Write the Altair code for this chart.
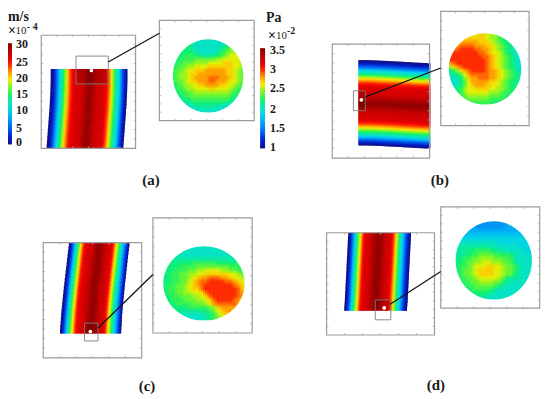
import altair as alt
import pandas as pd

# --- colour scale (fraction of colour bar, colour)
STOPS = [0, .08, .16, .25, .33, .40, .48, .56, .64, .72, .78, .84, .90, 1]
COLORS = ["#10108c", "#0020d0", "#0060f0", "#00a0f8", "#00d0f0", "#08e8c0", "#10f070",
          "#70f830", "#f8f000", "#ff9000", "#ff3000", "#f00000", "#c80000", "#800000"]

# --- velocity profiles across each strip (x10^-4 m/s)
profile_a = [0, 2, 4, 7, 10, 12.5, 14.5, 17.5, 20, 22, 24, 25.2, 26, 26.2, 26.3, 26.5, 26.8, 27.4, 28.2, 29,
             29, 28.4, 27.6, 27, 26.7, 26.5, 26.3, 26.1, 25.5, 24, 22, 19.5, 17, 14.5, 12, 10, 7, 4, 2, 0]
profile_b = [0, 2, 4, 6.5, 10, 12, 14, 17, 19.5, 21.5, 23.5, 25, 25.8, 26.1, 26.3, 26.5, 26.9, 27.5, 28.4, 29.2,
             29.2, 28.6, 27.8, 27.2, 26.8, 26.5, 26.3, 26, 25, 23.5, 21.5, 19.5, 17, 14.5, 12.5, 10, 7, 4, 2, 0]
profile_c = [0, 2.5, 4.5, 8, 11, 13.5, 16, 19, 21, 23.5, 25, 25.8, 26.1, 26.3, 26.6, 27, 27.6, 28.2, 28.8, 29.2,
             29.2, 28.8, 28.2, 27.6, 27.1, 26.7, 26.4, 26.1, 25.3, 23.5, 21, 19, 16.5, 14, 12, 9.5, 7, 4.5, 2.5, 0]
profile_d = [0, 2.5, 4.5, 8, 11, 13.5, 16.5, 19, 21.5, 24, 25.3, 26, 26.2, 26.4, 26.8, 27.4, 28, 28.6, 29.2, 29.2,
             29, 28.4, 27.8, 27.2, 26.7, 26.4, 26.2, 25.5, 24, 22, 19.5, 17, 14.5, 12, 10, 7.5, 5, 3, 1.5, 0]

# --- strip outlines
a_left = [51, 51, 51, 50.9, 50.8, 50.7, 50.5, 50.3, 50.1, 49.9, 49.6, 49.3, 49, 48.7, 48.4, 48.1, 47.8, 47.5, 47.2, 46.9]
a_right = [128.3, 128.3, 128.3, 128.2, 128.1, 128, 127.8, 127.6, 127.4, 127.2, 126.9, 126.6, 126.3, 126, 125.7, 125.4, 125.1, 124.8, 124.5, 124.2]
b_top = [59, 59, 59, 59, 59.1, 59.1, 59.2, 59.2, 59.3, 59.4, 59.5, 59.6, 59.7, 59.8, 59.9, 60, 60.1, 60.2,
         60.3, 60.4, 60.5, 60.6, 60.8, 60.9, 61, 61.1, 61.2, 61.4, 61.5, 61.6, 61.7, 61.8, 61.9, 62, 62, 62]
b_bottom = [145, 145, 145, 145, 145.1, 145.1, 145.2, 145.2, 145.3, 145.4, 145.5, 145.6, 145.7, 145.8, 145.9, 146, 146.1, 146.2,
            146.3, 146.4, 146.5, 146.6, 146.8, 146.9, 147, 147.1, 147.2, 147.4, 147.5, 147.6, 147.7, 147.8, 147.9, 148, 148, 148]
c_left = [69.3, 68.8, 68.3, 67.9, 67.4, 67, 66.5, 66, 65.6, 65.1, 64.7, 64.2, 63.8, 63.4, 63, 62.6, 62.2, 61.8, 61.5, 61.2, 60.9, 60.6, 60.4]
c_right = [130.3, 129.8, 129.3, 128.9, 128.4, 128, 127.5, 127.1, 126.7, 126.2, 125.8, 125.4, 125, 124.6, 124.2, 123.8, 123.5, 123.2, 122.9, 122.7, 122.5, 122.2, 122]
d_left = [350.7, 350.5, 350.3, 350.1, 349.9, 349.7, 349.5, 349.3, 349.1, 348.9, 348.7, 348.5, 348.3, 348.1, 347.9, 347.7, 347.5, 347.3, 347, 346.7]
d_right = [414, 413.8, 413.6, 413.4, 413.2, 413, 412.8, 412.6, 412.4, 412.2, 412, 411.8, 411.6, 411.4, 411.2, 411, 410.8, 410.6, 410.3, 410]

# --- pressure maps; each character is a base-36 level, about (Pa x10^-2 - 1) x 10
map_a = ["cccccbbaaaaaaabcdddd", "cccccbaaaaaaaabcdeee", "cccccbaaaaaaabcdefff", "ccccccbaaaaabcdeffgg",
         "cccdddccbbbccdefgggg", "ccddddeeeeeeffgggggg", "cddeeeffffgggghhhggf", "cdeeffgggghhhhhhhggf",
         "deefgghhhiiiiiihhgfe", "deffghhiiiiiiiihhgfe", "deffghiiiijjjiiihgfe", "deefghhiiijjiiihggfe",
         "cdeffgghhiiiihhggfed", "cddeffgggghhggggfedd", "bcddeeffffffffffeddc", "bccddeeeeeeeeeeedccb",
         "abbccdddddddddddcbba", "aaabbbccccccccbbbaaa", "9aaaaabbbbbbaaaaaa99", "99999aaaaaaaaa999999"]
map_b = ["ffffgggghhgffeddcccc", "gggghhhhhhgffedccccb", "hhhiiiiihhhgfedccbbb", "iiijjjjiiihhgfedcbba",
         "ijjkkkkjjiihgfedcbba", "jkkkkkkkjjihggfdcbaa", "kkkkkkkkkjjihgfedcaa", "kkkkkkkkkkjihgfedcaa",
         "ijkkkkkkkkjihgfedcba", "fhijkkkkkkjihgfedcba", "cdfhijkkkkjiihgfedca", "bbcegijjjjjiihgfedcb",
         "aabcfhiijjjiihgfedcb", "aaacegiiiiihhgfedccb", "aabceghiiihhggfedccb", "bbcdfgghhhhggffedccb",
         "cccdfggggggfffeddccc", "ccddeffffffeeeddcccc", "ccdddeeeeeeddddccccc", "ccccddddddddcccccccc"]
map_c = ["bbbbbbaaaaaaaaaabbbb", "bbbbbaaaaaaaaaaaabbb", "bbbbaaaaaaaaaaaaabbb", "bbbbbbbbbbbbbbbbbbcc",
         "cccccccddddddcccccdd", "ccccddddeeeeeeeedddd", "cccdddeeffggggffeedd", "ccddeeffgghhhhhhggfe",
         "ccddeefghiijjjiihggf", "ccddeeghijjkkkkjjihg", "cddeefghijkkkkkkkjih", "cddeefghhjkkkkkkkkjh",
         "cddeeffgghjkkkkkkkji", "ccddeeeffghjkkkkkkji", "ccdddeeeffghjkkkkjih", "cccddddeeefgijjjjjih",
         "ccccccdddddefhiiiihh", "ccccbbbbbccdeghiihgg", "cccbbaaaaabcdfghggfe", "cccbaaaaaabcdeffeedd"]
map_d = ["88887666666667788888", "88877666666667778888", "99877777777777778899", "99888888888888888899",
         "a9999999999999999999", "aaaaaaaaaaa999999999", "abbbbbbbbbaaaaaa9999", "bbbccddddccbbaaaaa99",
         "bbccddeeeeddcdcbaaa9", "bcddeeffffeeeddbaaaa", "ccdeeffggfffeedcaaaa", "cddefggghhggfeedcaaa",
         "cdeefghhhhggfeedbaaa", "cdeefghhhhggfeecbaaa", "cddeefgggggfecbbbaaa", "ccddeeffffeecbbaaaaa",
         "cccddeeeeedcbaaaaaaa", "bcccdddddcbaaaaaaaaa", "bbbcccccbbaaaaaaaaaa", "bbbbbbbbaaaaaaaaaaaa"]
LEVEL_STEP = .098

# --- circle centre x, centre y, radius x, radius y
circles = [(209.7, 75, 35.5, 37), (488.7, 68, 36.5, 36), (205.5, 284, 41, 37.5), (497.5, 261, 38.5, 39.5)]
maps = [map_a, map_b, map_c, map_d]

# --- frames: x0, x1, y0, y1
outer_frames = [(41.5, 136.5, 34, 148), (334.7, 432.7, 43, 157.7), (43.5, 142.7, 243, 359), (329, 437.7, 233, 336)]
inset_frames = [(160.5, 256, 19, 120), (444, 533, 10, 125), (154, 254, 218, 334), (444, 543.7, 207, 309)]
small_boxes = [(76.5, 109, 55, 83), (356, 368, 90, 110), (85, 98.7, 324, 342), (378, 393.7, 300.7, 320.7)]
dark_zones = [(76.5, 109, 68, 83), (361, 368, 90, 110), (85, 98.7, 324, 334), (378, 393.7, 300.7, 311)]
links = [(109, 61, 160.5, 32), (368, 96, 444, 67), (98.7, 329, 154, 275), (393, 305, 444, 272)]
dots = [(92, 69.5), (364, 99), (91, 332.5), (387, 308.7)]

# --- colour bars and text
bars = [(7.5, 12, 42, 144), (262, 267, 47, 148)]
units = [("m/s", 8, 16), ("Pa", 268, 17)]
mult = [("×", 8, 30), ("×", 270, 35)]
mult10 = [("10", 15.5, 30), ("10", 278, 35)]
powers = [("- 4", 27, 26), ("-2", 289, 30)]
ticks_vel = [("30", 16, 43), ("25", 16, 61), ("20", 16, 77), ("15", 16, 93), ("10", 16, 109), ("5", 16, 127), ("0", 16, 142)]
ticks_pa = [("3.5", 272, 49), ("3", 272, 68), ("2.5", 272, 87), ("2", 272, 108), ("1.5", 272, 127), ("1", 272, 147)]
panel_labels = [("(a)", 152, 180), ("(b)", 443, 180), ("(c)", 148, 387), ("(d)", 439, 386)]

X = alt.Scale(domain=[8, 546], nice=False, zero=False)
Y = alt.Scale(domain=[397, 8], nice=False, zero=False)
FONT = "Liberation Serif"


def enc(**kw):
    out = {}
    for ch, f in kw.items():
        if ch in ("x", "y"):
            out[ch] = alt.X(f"{f}:Q", scale=X, axis=None) if ch == "x" else alt.Y(f"{f}:Q", scale=Y, axis=None)
        else:
            out[ch] = alt.X2(f) if ch == "x2" else alt.Y2(f)
    return out


def strip_rows(profile, left, right, y0, step, shift, over):
    rows = []
    for r, (a, b) in enumerate(zip(left, right)):
        w = (b - a) / len(profile)
        for i, v in enumerate(profile):
            x = a + (i + shift) * w
            rows.append(dict(x=x, x2=min(x + w + over, b), y=y0 + r * step, y2=y0 + (r + 1) * step + over, v=v))
    return rows


def strip_cols(profile, top, bottom, x0, step, shift, over):
    rows = []
    for c, (a, b) in enumerate(zip(top, bottom)):
        h = (b - a) / len(profile)
        for i, v in enumerate(profile):
            y = a + (i + shift) * h
            rows.append(dict(x=x0 + c * step, x2=x0 + (c + 1) * step + over, y=y, y2=min(y + h + over, b), v=v))
    return rows


def all_strips(shift, over):
    return (strip_rows(profile_a, a_left, a_right, 68, 4, shift, over)
            + strip_cols(profile_b, b_top, b_bottom, 361, 2, shift, over)
            + strip_rows(profile_c, c_left, c_right, 243, 91 / 23, shift, over)
            + strip_rows(profile_d, d_left, d_right, 233, 3.9, shift, over))


def strip_layer(shift, op, over):
    return alt.Chart(pd.DataFrame(all_strips(shift, over))).mark_rect(strokeWidth=0, opacity=op).encode(
        **enc(x="x", x2="x2", y="y", y2="y2"),
        color=alt.Color("v:Q", legend=None, scale=alt.Scale(domain=[30 * s for s in STOPS], range=COLORS, clamp=True, interpolate="rgb")),
    )


strips = [strip_layer(0, 1, .6), strip_layer(.5, .5, 0)]


def circle_rows(ox, oy, overlap):
    """Every map cell, drawn at an offset of (ox, oy) cells."""
    rows = []
    for (cx, cy, rx, ry), m in zip(circles, maps):
        dy = 2 * ry / len(m)
        for r, row in enumerate(m):
            dx = 2 * rx / len(row)
            for c, ch in enumerate(row):
                x = cx - rx + (c + ox) * dx
                y = cy - ry + (r + oy) * dy
                rows.append(dict(x=x, x2=x + dx + overlap, y=y, y2=y + dy + overlap, v=1 + int(ch, 36) * LEVEL_STEP))
    return rows


def pressure_layer(ox, oy, op, overlap):
    return alt.Chart(pd.DataFrame(circle_rows(ox, oy, overlap))).mark_rect(strokeWidth=0, opacity=op).encode(
        **enc(x="x", x2="x2", y="y", y2="y2"),
        color=alt.Color("v:Q", legend=None, scale=alt.Scale(domain=[1 + 2.5 * s for s in STOPS], range=COLORS, clamp=True, interpolate="rgb")),
    )


pressure = [pressure_layer(-.25, -.25, 1, .5), pressure_layer(.25, -.25, .5, 0),
            pressure_layer(-.25, .25, .33, 0), pressure_layer(.25, .25, .25, 0)]

# white masks rounding the pressure maps into ellipses
masks = []
for cx, cy, rx, ry in circles:
    m = max(rx, ry) + 5
    path = (f"M{-m},{-m}L{m},{-m}L{m},{m}L{-m},{m}Z"
            f"M{-rx},0A{rx},{ry},0,1,0,{rx},0A{rx},{ry},0,1,0,{-rx},0Z")
    masks.append(alt.Chart(pd.DataFrame([dict(x=cx, y=cy)])).mark_point(
        shape=path, size=4, filled=True, fill="white", opacity=1, strokeWidth=0).encode(**enc(x="x", y="y")))


def box_df(items):
    return pd.DataFrame([dict(x=a, x2=b, y=c, y2=d) for a, b, c, d in items])


dark = alt.Chart(box_df(dark_zones)).mark_rect(color="black", opacity=.13).encode(**enc(x="x", x2="x2", y="y", y2="y2"))

frame_df = box_df(outer_frames + inset_frames)
frames = alt.Chart(frame_df).mark_rect(fillOpacity=0, stroke="#9c9c9c", strokeWidth=1.2).encode(
    **enc(x="x", x2="x2", y="y", y2="y2"))
boxes = alt.Chart(box_df(small_boxes)).mark_rect(fillOpacity=0, stroke="#7d7d7d", strokeWidth=.9).encode(
    **enc(x="x", x2="x2", y="y", y2="y2"))

tick_rows = []
for a, b, c, d in outer_frames + inset_frames:
    for i in range(1, 12):
        y = c + (d - c) * i / 12
        tick_rows.append(dict(x=a, x2=a + 2, y=y, y2=y))
        tick_rows.append(dict(x=b - 2, x2=b, y=y, y2=y))
    for i in range(1, 6):
        x = a + (b - a) * i / 6
        tick_rows.append(dict(x=x, x2=x, y=c, y2=c + 2))
        tick_rows.append(dict(x=x, x2=x, y=d - 2, y2=d))
ticks = alt.Chart(pd.DataFrame(tick_rows)).mark_rule(color="#b0b0b0", strokeWidth=.8).encode(
    **enc(x="x", x2="x2", y="y", y2="y2"))

lines = alt.Chart(pd.DataFrame([dict(x=a, y=b, x2=c, y2=d) for a, b, c, d in links])).mark_rule(
    color="#151515", strokeWidth=1.3).encode(**enc(x="x", x2="x2", y="y", y2="y2"))
dot = alt.Chart(pd.DataFrame([dict(x=a, y=b) for a, b in dots])).mark_point(
    filled=True, color="white", size=14, opacity=1).encode(**enc(x="x", y="y"))

grad = alt.Gradient(gradient="linear", x1=0, x2=0, y1=1, y2=0,
                    stops=[alt.GradientStop(color=c, offset=s) for s, c in zip(STOPS, COLORS)])
colorbars = alt.Chart(box_df(bars)).mark_rect(color=grad).encode(**enc(x="x", x2="x2", y="y", y2="y2"))


def text_layer(items, size, bold=True, align="left", color="#1a1a1a"):
    df = pd.DataFrame([dict(t=t, x=x, y=y) for t, x, y in items])
    return alt.Chart(df).mark_text(font=FONT, fontSize=size, fontWeight="bold" if bold else "normal",
                                   align=align, baseline="middle", color=color).encode(
        **enc(x="x", y="y"), text="t:N")


chart = alt.layer(
    *strips, dark, *pressure, *masks, ticks, frames, boxes, lines, dot, colorbars,
    text_layer(units, 14),
    text_layer(mult, 14),
    text_layer(mult10, 11, bold=False),
    text_layer(powers, 10),
    text_layer(ticks_vel, 12),
    text_layer(ticks_pa, 12),
    text_layer(panel_labels, 15, align="center"),
).resolve_scale(color="independent").properties(
    width=538, height=389, padding=0, autosize=alt.AutoSizeParams(type="none"), background="white"
).configure_view(stroke=None)

chart.save("out.html", embed_options={"renderer": "svg", "actions": False})
